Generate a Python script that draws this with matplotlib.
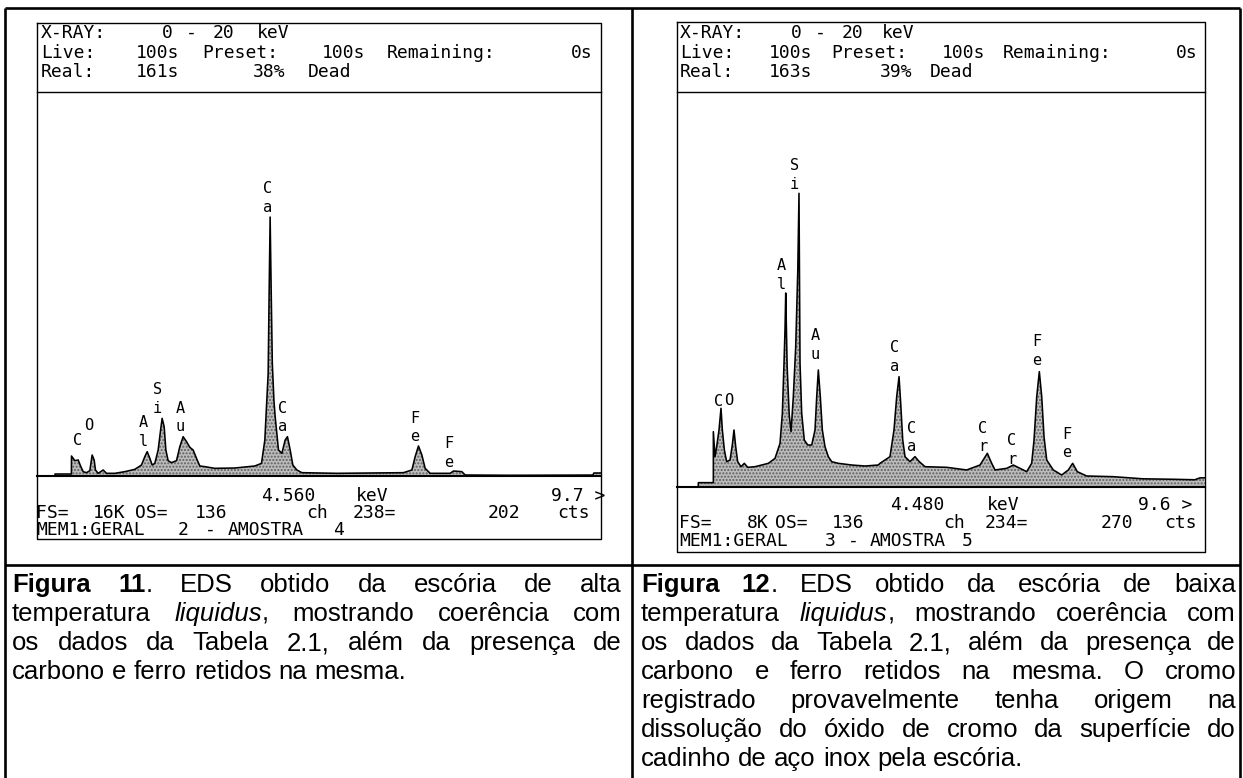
import matplotlib
matplotlib.use('Agg')
import matplotlib.pyplot as plt

# espectro EDS da figura 11 (energia em keV, contagens)
esq_kev = [-0.58, -0.25, -0.25, 0.05, 0.052, 0.113, 0.174, 0.223, 0.266, 0.327,
           0.388, 0.43, 0.467, 0.491, 0.54, 0.632, 0.693, 0.846, 1.029, 1.212,
           1.334, 1.395, 1.438, 1.487, 1.529, 1.578, 1.639, 1.688, 1.712, 1.749,
           1.78, 1.822, 1.883, 1.975, 2.036, 2.097, 2.158, 2.219, 2.28, 2.341,
           2.402, 2.494, 2.677, 3.043, 3.41, 3.532, 3.593, 3.623, 3.654, 3.67,
           3.69, 3.71, 3.73, 3.76, 3.782, 3.843, 3.905, 3.965, 4.007, 4.057,
           4.106, 4.179, 4.271, 4.912, 6.132, 6.286, 6.346, 6.407, 6.469, 6.529,
           6.621, 6.987, 7.048, 7.201, 7.262, 8.086, 9.60, 9.62, 9.76]
esq_cts = [0, 0, 85, 85, 853, 654, 683, 398, 185, 142,
           228, 896, 683, 256, 114, 256, 114, 114, 185, 284,
           469, 825, 1038, 754, 469, 540, 1109, 2034, 2460, 2105,
           1109, 654, 569, 654, 1252, 1678, 1465, 1223, 1109, 754,
           427, 398, 327, 341, 427, 540, 1536, 2958, 4380, 7500,
           11050, 7800, 4800, 3200, 2531, 1109, 967, 1536, 1678, 1109,
           469, 256, 142, 114, 142, 256, 825, 1280, 896, 327,
           114, 114, 213, 185, 43, 30, 40, 128, 128]

# espectro EDS da figura 12
dir_kev = [-0.563, -0.148, -0.148, 0.141, 0.141, 0.173, 0.205, 0.25, 0.288, 0.314,
           0.353, 0.397, 0.462, 0.506, 0.538, 0.571, 0.609, 0.673, 0.737, 0.801,
           0.942, 1.071, 1.199, 1.327, 1.423, 1.468, 1.50, 1.519, 1.533, 1.56,
           1.60, 1.635, 1.679, 1.725, 1.765, 1.788, 1.808, 1.84, 1.89, 1.956,
           2.033, 2.096, 2.129, 2.16, 2.198, 2.237, 2.288, 2.352, 2.417, 2.544,
           2.802, 3.058, 3.313, 3.346, 3.538, 3.615, 3.667, 3.712, 3.744, 3.783,
           3.827, 3.923, 4.019, 4.102, 4.212, 4.629, 5.013, 5.269, 5.41, 5.494,
           5.558, 5.783, 5.91, 6.167, 6.263, 6.308, 6.36, 6.41, 6.456, 6.5,
           6.552, 6.679, 6.84, 6.967, 7.051, 7.14, 7.321, 7.833, 8.4, 9.0,
           9.4, 9.5, 9.596]
dir_cts = [0, 0, 90, 90, 1147, 629, 836, 1182, 1632, 1182,
           767, 525, 560, 871, 1182, 836, 525, 421, 491, 408,
           421, 456, 491, 594, 906, 1528, 2566, 3256, 4024, 2500,
           1500, 1147, 1873, 2910, 4500, 6091, 2566, 1528, 975, 871,
           871, 1182, 1873, 2427, 1873, 1182, 836, 629, 525, 491,
           456, 435, 456, 491, 629, 1182, 1873, 2288, 1736, 975,
           629, 525, 629, 525, 421, 408, 353, 456, 698, 491,
           353, 387, 456, 318, 491, 975, 1873, 2392, 1873, 1044,
           560, 353, 249, 353, 491, 318, 228, 214, 170, 160,
           150, 190, 190]

# rotulos dos picos: simbolo, keV, contagens
esq_rot = ['C', 'O', 'A\nl', 'S\ni', 'A\nu', 'C\na', 'C\na', 'F\ne', 'F\ne']
esq_rot_kev = [0.161, 0.37, 1.364, 1.626, 2.037, 3.635, 3.923, 6.346, 6.956]
esq_rot_cts = [1536, 2176, 1890, 3285, 2496, 11862, 2496, 2069, 969]

dir_rot = ['C', 'O', 'A\nl', 'S\ni', 'A\nu', 'C\na', 'C\na', 'C\nr', 'C\nr', 'F\ne', 'F\ne']
dir_rot_kev = [0.237, 0.442, 1.456, 1.698, 2.096, 3.635, 3.956, 5.321, 5.879, 6.36, 6.937]
dir_rot_cts = [1769, 1804, 4397, 6471, 2945, 2702, 1027, 1027, 767, 2825, 906]

W, H = 1243, 778
MONO = 'DejaVu Sans Mono'
SANS = 'Liberation Sans'

fig = plt.figure(figsize=(W / 100, H / 100), dpi=100)
base = fig.add_axes([0, 0, 1, 1])
base.set_xlim(0, W)
base.set_ylim(H, 0)
base.axis('off')


def caixa(x0, y0, x1, y1):
    return [x0 / W, 1 - y1 / H, (x1 - x0) / W, (y1 - y0) / H]


# linhas da tabela
for xs, ys in [([5, 1240], [8, 8]), ([5, 1240], [565, 565]),
               ([5, 5], [8, 778]), ([632, 632], [8, 778]), ([1240, 1240], [8, 778])]:
    base.plot(xs, ys, color='black', lw=1.9, solid_capstyle='butt')


def painel(x0, x1, ytop, yhead, ybase, ybot, kev, cts, fs, xlim, rot, rkev, rcts):
    base.plot([x0, x1, x1, x0, x0], [ytop, ytop, ybot, ybot, ytop], color='black', lw=1.0)
    base.plot([x0, x1], [yhead, yhead], color='black', lw=1.0)
    ax = fig.add_axes(caixa(x0, yhead, x1, ybase))
    ax.set_xlim(*xlim)
    ax.set_ylim(0, fs)
    ax.axis('off')
    ax.patch.set_alpha(0)
    ax.fill_between(kev, cts, 0, facecolor='#bcbcbc', edgecolor='#5f5f5f',
                    hatch='.....', linewidth=0)
    ax.plot(kev, cts, color='black', lw=1.15)
    ax.axhline(0, color='black', lw=1.5, clip_on=False)
    for s, xk, yc in zip(rot, rkev, rcts):
        ax.text(xk, yc, s, ha='center', va='center', fontsize=11, family=MONO,
                linespacing=1.3)
    return ax


painel(37, 601, 23, 92, 476, 539, esq_kev, esq_cts, 16384, (-0.58, 9.75),
       esq_rot, esq_rot_kev, esq_rot_cts)
painel(677, 1205, 22, 92, 487, 552, dir_kev, dir_cts, 8192, (-0.558, 9.596),
       dir_rot, dir_rot_kev, dir_rot_cts)


def linha_mono(y, palavras):
    for x, s in palavras:
        base.text(x, y, s, fontsize=13, family=MONO, va='center', ha='left')


# cabecalhos e rodapes dos espectros
linha_mono(33, [(41, 'X-RAY:'), (162, '0'), (186, '-'), (213, '20'), (257, 'keV')])
linha_mono(53, [(41, 'Live:'), (136, '100s'), (202, 'Preset:'), (322, '100s'),
                (387, 'Remaining:'), (571, '0s')])
linha_mono(72, [(41, 'Real:'), (136, '161s'), (253, '38%'), (308, 'Dead')])
linha_mono(496, [(261, '4.560'), (356, 'keV'), (551, '9.7 >')])
linha_mono(513, [(36, 'FS='), (93, '16K'), (135, 'OS='), (195, '136'), (306, 'ch'),
                 (353, '238='), (488, '202'), (557, 'cts')])
linha_mono(530, [(36, 'MEM1:GERAL'), (178, '2'), (205, '-'), (228, 'AMOSTRA'), (333, '4')])

linha_mono(33, [(680, 'X-RAY:'), (791, '0'), (815, '-'), (842, '20'), (882, 'keV')])
linha_mono(53, [(680, 'Live:'), (769, '100s'), (831, 'Preset:'), (942, '100s'),
                (1003, 'Remaining:'), (1176, '0s')])
linha_mono(72, [(680, 'Real:'), (769, '163s'), (880, '39%'), (930, 'Dead')])
linha_mono(505, [(890, '4.480'), (987, 'keV'), (1138, '9.6 >')])
linha_mono(523, [(679, 'FS='), (747, '8K'), (775, 'OS='), (832, '136'), (943, 'ch'),
                 (985, '234='), (1101, '270'), (1164, 'cts')])
linha_mono(541, [(679, 'MEM1:GERAL'), (825, '3'), (848, '-'), (870, 'AMOSTRA'), (962, '5')])

# legendas (texto justificado)
B, I, N = 'bold', 'italic', 'normal'
leg_esq = [
    [[('Figura', B)], [('11', B), ('.', N)], [('EDS', N)], [('obtido', N)], [('da', N)],
     [('escória', N)], [('de', N)], [('alta', N)]],
    [[('temperatura', N)], [('liquidus', I), (',', N)], [('mostrando', N)],
     [('coerência', N)], [('com', N)]],
    [[(w, N)] for w in 'os dados da Tabela 2.1, além da presença de'.split()],
    [[(w, N)] for w in 'carbono e ferro retidos na mesma.'.split()],
]
leg_dir = [
    [[('Figura', B)], [('12', B), ('.', N)], [('EDS', N)], [('obtido', N)], [('da', N)],
     [('escória', N)], [('de', N)], [('baixa', N)]],
    [[('temperatura', N)], [('liquidus', I), (',', N)], [('mostrando', N)],
     [('coerência', N)], [('com', N)]],
    [[(w, N)] for w in 'os dados da Tabela 2.1, além da presença de'.split()],
    [[(w, N)] for w in 'carbono e ferro retidos na mesma. O cromo'.split()],
    [[(w, N)] for w in 'registrado provavelmente tenha origem na'.split()],
    [[(w, N)] for w in 'dissolução do óxido de cromo da superfície do'.split()],
    [[(w, N)] for w in 'cadinho de aço inox pela escória.'.split()],
]

renderer = fig.canvas.get_renderer()
FS_LEG = 18.5


def paragrafo(linhas, x0, x1, y0, passo):
    for i, linha in enumerate(linhas):
        y = y0 + i * passo
        ultima = i == len(linhas) - 1
        palavras = []
        for tok in linha:
            partes = []
            for s, st in tok:
                t = base.text(0, y, s, fontsize=FS_LEG, family=SANS, va='baseline',
                              ha='left', fontweight='bold' if st == B else 'normal',
                              fontstyle='italic' if st == I else 'normal')
                partes.append((t, t.get_window_extent(renderer).width))
            palavras.append(partes)
        larg = [sum(w for _, w in p) for p in palavras]
        esp = base.text(0, y, ' ', fontsize=FS_LEG, family=SANS)
        sp = esp.get_window_extent(renderer).width
        esp.remove()
        if not ultima and len(palavras) > 1:
            sp = (x1 - x0 - sum(larg)) / (len(palavras) - 1)
        x = x0
        for p, lw in zip(palavras, larg):
            xx = x
            for t, w in p:
                t.set_x(xx)
                xx += w
            x += lw + sp


paragrafo(leg_esq, 12, 622, 592, 29)
paragrafo(leg_dir, 641, 1236, 592, 29)

fig.savefig('out.png', dpi=100)
